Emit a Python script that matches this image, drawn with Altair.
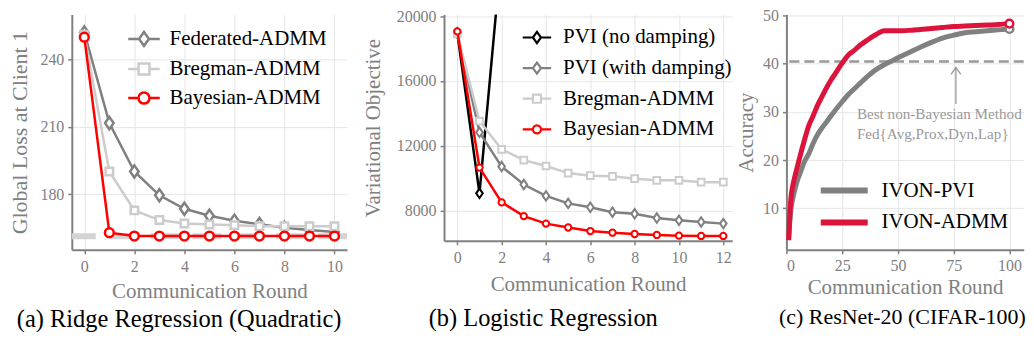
import altair as alt
import pandas as pd

FONT = "Liberation Serif"
GRAY = "#808080"
LIGHT = "#cccccc"
RED = "#ff0000"
CRIMSON = "#dc143c"
NOTE = "#999999"

# ---------------- data ----------------
# (a) Ridge regression
a_rounds = list(range(11))
a_federated = [252.0, 211.7, 190.2, 179.6, 173.6, 170.5, 168.3, 166.8, 165.2, 164.2, 163.3]
a_bregman = [251.0, 190.2, 172.9, 168.6, 167.1, 166.6, 166.3, 165.9, 165.9, 165.9, 165.9]
a_bayesian = [249.9, 163.0, 161.5, 161.5, 161.5, 161.5, 161.5, 161.5, 161.5, 161.5, 161.5]
a_optimum = [161.4]
a_methods = ["Federated-ADMM", "Bregman-ADMM", "Bayesian-ADMM"]
a_xticks = [0, 2, 4, 6, 8, 10]
a_yticks = [180, 210, 240]

# (b) Logistic regression
b_rounds = list(range(13))
b_nodamp_rounds = [0, 1, 2]
b_nodamp = [18950, 9059, 24000]
b_damp = [18950, 12823, 10712, 9602, 8902, 8438, 8197, 7895, 7795, 7533, 7392, 7292, 7190]
b_bregman = [18900, 13522, 11773, 11110, 10748, 10308, 10147, 10107, 9962, 9862, 9862, 9746, 9746]
b_bayesian = [19053, 10651, 8499, 7654, 7190, 6949, 6732, 6630, 6549, 6489, 6448, 6428, 6428]
b_methods = ["PVI (no damping)", "PVI (with damping)", "Bregman-ADMM", "Bayesian-ADMM"]
b_xticks = [0, 2, 4, 6, 8, 10, 12]
b_yticks = [8000, 12000, 16000, 20000]

# (c) ResNet-20 (CIFAR-100)
c_rounds = [1, 2, 3, 4, 5, 6, 8, 10, 12, 14, 16, 18, 20, 22, 25, 28, 30, 33, 36, 40, 44, 47, 50,
            55, 60, 65, 70, 75, 80, 85, 90, 95, 100]
c_pvi = [3.4, 9.7, 12.3, 14.3, 15.9, 17.1, 19.6, 21.3, 23.5, 25.3, 26.7, 27.9, 29.2, 30.4, 32.1,
         33.7, 34.6, 35.9, 37.2, 38.7, 39.8, 40.5, 41.2, 42.3, 43.4, 44.4, 45.3, 45.9, 46.4, 46.6,
         46.8, 47.0, 47.2]
c_admm = [3.4, 12.0, 15.0, 17.0, 18.8, 20.6, 24.0, 27.1, 29.2, 31.4, 33.2, 35.0, 36.6, 38.0, 40.1,
          41.9, 42.6, 43.8, 44.8, 46.0, 46.8, 46.8, 46.8, 46.9, 47.1, 47.3, 47.5, 47.7, 47.8, 47.9,
          48.0, 48.1, 48.3]
c_methods = ["IVON-PVI", "IVON-ADMM"]
c_xticks = [0, 25, 50, 75, 100]
c_yticks = [10, 20, 30, 40, 50]
c_baseline = [40.42]
c_note_text = ["Best non-Bayesian Method", "Fed{Avg,Prox,Dyn,Lap}"]
c_note_x = [31.6, 31.6]
c_note_y = [28.55, 24.3]
c_arrow_x = [76.0]
c_arrow_from = [31.65]
c_arrow_to = [39.24]

captions = ["(a) Ridge Regression (Quadratic)", "(b) Logistic Regression", "(c) ResNet-20 (CIFAR-100)"]


def frame(rounds, values):
    return pd.DataFrame({"round": rounds, "value": values})


def series(df, color, shape, size, lw, sw, X, Y, draw_line=True):
    layers = []
    if draw_line:
        layers.append(alt.Chart(df).mark_line(color=color, strokeWidth=lw, clip=True).encode(x=X, y=Y))
    layers.append(alt.Chart(df).mark_point(shape=shape, size=size, filled=True, fill="white",
                                           stroke=color, strokeWidth=sw, opacity=1, clip=True)
                  .encode(x=X, y=Y))
    return layers


def legend_layer(methods, colors, paths, size, lx, ly, offset, sw, rowpad):
    leg = alt.Legend(title=None, orient="none", legendX=lx, legendY=ly, symbolSize=size,
                     symbolStrokeWidth=sw, labelFontSize=21, labelFont=FONT, labelColor="black",
                     labelOffset=offset, rowPadding=rowpad, padding=0, labelLimit=0)
    df = pd.DataFrame({"method": methods})
    return (alt.Chart(df).transform_filter("false")
            .mark_point(filled=False, strokeWidth=sw, opacity=1)
            .encode(stroke=alt.Stroke("method:N", scale=alt.Scale(domain=methods, range=colors), legend=leg),
                    shape=alt.Shape("method:N", scale=alt.Scale(domain=methods, range=paths), legend=leg)))


THIN_DIAMOND = "M0,-1L0.7,0L0,1L-0.7,0Z"

# ---------------- panel (a) ----------------
xs_a = alt.Scale(domain=[-0.5, 10.5], nice=False, zero=False)
ys_a = alt.Scale(domain=[155.4, 260], nice=False, zero=False)
Xa = alt.X("round:Q", scale=xs_a, axis=alt.Axis(title="Communication Round", values=a_xticks,
                                                   titleFontSize=21, labelPadding=4.5, titlePadding=6.6))
Ya = alt.Y("value:Q", scale=ys_a, axis=alt.Axis(title="Global Loss at Client 1", values=a_yticks,
                                                   labelPadding=4, titleFontSize=22, titlePadding=8.7))
band_a = alt.Chart(pd.DataFrame({"value": a_optimum})).mark_rule(
    color="#d4d4d4", strokeWidth=6, strokeDash=[29, 13]).encode(y=Ya)

u = "M-1.09,0H-0.38M0.38,0H1.09"
a_paths = ["M-1.09,0H-0.34M0.34,0H1.09M0,-0.48L0.34,0L0,0.48L-0.34,0Z",
           u + "M-0.38,-0.38H0.38V0.38H-0.38Z",
           u + "M0.38,0A0.38,0.38,0,1,1,-0.38,0A0.38,0.38,0,1,1,0.38,0Z"]
layers_a = [band_a]
layers_a += series(frame(a_rounds, a_federated), GRAY, THIN_DIAMOND, 150, 2.5, 2.5, Xa, Ya)
layers_a += series(frame(a_rounds, a_bregman), LIGHT, "square", 56, 2.5, 2.5, Xa, Ya)
layers_a += series(frame(a_rounds, a_bayesian), RED, "circle", 78, 2.5, 2.5, Xa, Ya)
layers_a.append(legend_layer(a_methods, [GRAY, LIGHT, RED], a_paths, 841, 56.4, 8.5, 9.7, 2.5, 2.2))
panel_a = alt.layer(*layers_a).properties(
    width=276, height=236,
    title=alt.Title(captions[0], orient="bottom", anchor="middle", frame="bounds", offset=6))

# ---------------- panel (b) ----------------
xs_b = alt.Scale(domain=[-0.6, 12.4], nice=False, zero=False)
ys_b = alt.Scale(domain=[6130, 20100], nice=False, zero=False)
Xb = alt.X("round:Q", scale=xs_b, axis=alt.Axis(title="Communication Round", values=b_xticks,
                                                   titleFontSize=21, labelPadding=4.9, titlePadding=7.5))
Yb = alt.Y("value:Q", scale=ys_b, axis=alt.Axis(title="Variational Objective", values=b_yticks,
                                                   format="d", labelPadding=4, titleFontSize=21,
                                                   titlePadding=13))
ub = "M-0.95,0H-0.27M0.27,0H0.95"
b_dpath = "M-0.95,0H-0.27M0.27,0H0.95M0,-0.37L0.27,0L0,0.37L-0.27,0Z"
b_paths = [b_dpath, b_dpath, ub + "M-0.27,-0.27H0.27V0.27H-0.27Z",
           ub + "M0.27,0A0.27,0.27,0,1,1,-0.27,0A0.27,0.27,0,1,1,0.27,0Z"]
layers_b = []
layers_b += series(frame(b_nodamp_rounds, b_nodamp), "black", THIN_DIAMOND, 90, 2.5, 2, Xb, Yb)
layers_b += series(frame(b_rounds, b_damp), GRAY, THIN_DIAMOND, 90, 2.5, 2, Xb, Yb)
layers_b += series(frame(b_rounds, b_bregman), LIGHT, "square", 45, 2.5, 2, Xb, Yb)
layers_b += series(frame(b_rounds, b_bayesian), RED, "circle", 40, 2.5, 2, Xb, Yb)
layers_b.append(legend_layer(b_methods, ["black", GRAY, LIGHT, RED], b_paths, 900, 76.7, 6.6, 9.7, 2.2, 3.7))
panel_b = alt.layer(*layers_b).properties(
    width=289, height=227,
    title=alt.Title(captions[1], orient="bottom", anchor="middle", frame="bounds", offset=13, dx=-4))

# ---------------- panel (c) ----------------
xs_c = alt.Scale(domain=[0, 106.4], nice=False, zero=False)
ys_c = alt.Scale(domain=[1.4, 50.2], nice=False, zero=False)
Xc = alt.X("round:Q", scale=xs_c, axis=alt.Axis(title="Communication Round", values=c_xticks,
                                                   titleFontSize=21, labelPadding=4.2, titlePadding=2.5))
Yc = alt.Y("value:Q", scale=ys_c, axis=alt.Axis(title="Accuracy", values=c_yticks, labelPadding=4,
                                                   titleFontSize=21, titlePadding=5.7))
c_df = pd.concat([
    pd.DataFrame({"round": c_rounds, "value": c_pvi, "method": c_methods[0]}),
    pd.DataFrame({"round": c_rounds, "value": c_admm, "method": c_methods[1]}),
])
c_lines = alt.Chart(c_df).mark_line(strokeWidth=5, interpolate="monotone").encode(
    x=Xc, y=Yc,
    color=alt.Color("method:N", scale=alt.Scale(domain=c_methods, range=[GRAY, CRIMSON]),
                    legend=alt.Legend(title=None, orient="none", legendX=40, legendY=158.6,
                                      symbolType="M-1.57,0H1.57", symbolSize=900, symbolStrokeWidth=6,
                                      labelFontSize=21, labelFont=FONT, labelColor="black",
                                      labelOffset=19.3, rowPadding=2, padding=0, labelLimit=0)))
c_base = alt.Chart(pd.DataFrame({"value": c_baseline})).mark_rule(
    color=NOTE, strokeWidth=2.5, strokeDash=[10, 5]).encode(y=Yc)
c_end_pvi = alt.Chart(frame(c_rounds[-1:], c_pvi[-1:])).mark_point(
    shape="circle", size=60, filled=True, fill="white", stroke=GRAY, strokeWidth=2.5, opacity=1).encode(x=Xc, y=Yc)
c_end_admm = alt.Chart(frame(c_rounds[-1:], c_admm[-1:])).mark_point(
    shape="circle", size=60, filled=True, fill="white", stroke=CRIMSON, strokeWidth=2.5, opacity=1).encode(x=Xc, y=Yc)
arrow_df = pd.DataFrame({"round": c_arrow_x, "value": c_arrow_from, "value2": c_arrow_to})
c_arrow = alt.Chart(arrow_df).mark_rule(color=NOTE, strokeWidth=1.3).encode(
    x=Xc, y=Yc, y2=alt.Y2("value2:Q"))
c_head = alt.Chart(pd.DataFrame({"round": c_arrow_x, "value": c_arrow_to})).mark_point(
    shape="M-0.7,1L0,0L0.7,1", size=196, filled=False, stroke=NOTE, strokeWidth=1.3, opacity=1).encode(x=Xc, y=Yc)
c_note = alt.Chart(pd.DataFrame({"round": c_note_x, "value": c_note_y, "t": c_note_text})).mark_text(
    align="left", baseline="alphabetic", font=FONT, fontSize=15.2, color=NOTE).encode(
    x=Xc, y=Yc, text="t:N")
panel_c = alt.layer(c_base, c_arrow, c_head, c_note, c_lines, c_end_pvi, c_end_admm).properties(
    width=238, height=236,
    title=alt.Title(captions[2], orient="bottom", anchor="middle", frame="group", offset=10,
                    dx=-2.7, fontSize=22))

inner = (alt.hconcat(panel_a, panel_b, spacing=97.3, bounds="flush")
         .resolve_scale(stroke="independent", shape="independent", color="independent")
         .resolve_legend(stroke="independent", shape="independent", color="independent"))
chart = (alt.hconcat(inner, panel_c, spacing=2.7)
         .resolve_scale(stroke="independent", shape="independent", color="independent")
         .resolve_legend(stroke="independent", shape="independent", color="independent")
         .properties(padding={"left": 0, "top": -2, "right": 0, "bottom": 0})
         .configure_view(stroke=None)
         .configure_axis(labelFont=FONT, titleFont=FONT, labelFontSize=16, labelColor=GRAY,
                         titleColor=GRAY, titleFontWeight="normal", domainColor=GRAY, domainWidth=2,
                         tickColor=GRAY, tickWidth=1.5, tickSize=4, gridColor="#e6e6e6", gridWidth=1)
         .configure_title(font=FONT, fontSize=24.5, fontWeight="normal", color="black"))

chart.save("out.html", embed_options={"renderer": "svg", "actions": False})
